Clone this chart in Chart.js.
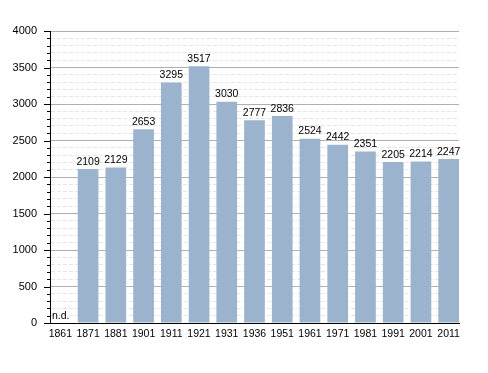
<!DOCTYPE html>
<html>
<head>
<meta charset="utf-8">
<script src="https://cdn.jsdelivr.net/npm/chart.js@4"></script>
<style>
  body { margin: 0; background: #fff; }
  #wrap { width: 488px; height: 373px; }
</style>
</head>
<body>
<div id="wrap"><canvas id="popChart" width="488" height="373"></canvas></div>
<script>
// dati del grafico
const years = ["1861", "1871", "1881", "1901", "1911", "1921", "1931", "1936", "1951", "1961", "1971", "1981", "1991", "2001", "2011"];
const population = [null, 2109, 2129, 2653, 3295, 3517, 3030, 2777, 2836, 2524, 2442, 2351, 2205, 2214, 2247];
const yTicks = [0, 500, 1000, 1500, 2000, 2500, 3000, 3500, 4000];
const missingLabel = "n.d.";

// le barre toccano i bordi dell'asse: mezza barra di margine
const halfBar = 0.373;

// etichette sopra le barre + tacche asse y
const labelPlugin = {
    id: "labelPlugin",
    afterDatasetsDraw(chart) {
        const ctx = chart.ctx;
        const meta = chart.getDatasetMeta(0);
        const yScale = chart.scales.y;
        ctx.save();
        ctx.font = "10.5px 'Liberation Sans', Arial, sans-serif";
        ctx.fillStyle = "#000";
        ctx.textAlign = "center";
        ctx.textBaseline = "bottom";
        meta.data.forEach((bar, i) => {
            const v = population[i];
            if (v === null) {
                ctx.textAlign = "left";
                ctx.fillText(missingLabel, chart.chartArea.left + 2, yScale.getPixelForValue(0) - 2);
                ctx.textAlign = "center";
            } else {
                ctx.fillText(String(v), bar.x, bar.y - 2);
            }
        });
        // tacche sull'asse verticale
        ctx.strokeStyle = "#000";
        ctx.lineWidth = 1;
        const x0 = chart.chartArea.left;
        yScale.ticks.forEach(t => {
            const y = Math.round(yScale.getPixelForValue(t.value)) + 0.5;
            const len = yTicks.includes(t.value) ? 6 : 3;
            ctx.beginPath();
            ctx.moveTo(x0 - len, y);
            ctx.lineTo(x0, y);
            ctx.stroke();
        });
        ctx.restore();
    }
};

const isMajor = v => yTicks.includes(v);

new Chart(document.getElementById("popChart").getContext("2d"), {
    type: "bar",
    data: {
        datasets: [{
            data: population.map((v, i) => ({ x: i, y: v })),
            backgroundColor: "#9bb3cc",
            barPercentage: 0.746,
            categoryPercentage: 1
        }]
    },
    options: {
        responsive: false,
        animation: false,
        layout: { padding: { top: 31, right: 29, bottom: 0, left: 0 } },
        plugins: {
            legend: { display: false },
            tooltip: { enabled: false }
        },
        scales: {
            x: {
                type: "linear",
                min: -halfBar,
                max: years.length - 1 + halfBar,
                offset: false,
                afterFit: s => { s.height = 50; },
                afterBuildTicks: s => { s.ticks = years.map((_, i) => ({ value: i })); },
                grid: { display: false, drawTicks: false },
                border: { color: "#000", width: 1 },
                ticks: {
                    color: "#000",
                    padding: 5,
                    maxRotation: 0,
                    autoSkip: false,
                    font: { family: "'Liberation Sans', Arial, sans-serif", size: 10.5 },
                    callback: v => years[v] ?? ""
                }
            },
            y: {
                min: 0,
                max: 4000,
                afterFit: s => { s.width = 50; },
                grid: {
                    drawTicks: false,
                    color: c => (c.tick && isMajor(c.tick.value)) ? "#b0b0b0" : "#e6e6e6",
                    lineWidth: 1
                },
                border: {
                    color: "#000",
                    width: 1,
                    dash: c => (c.tick && !isMajor(c.tick.value)) ? [4, 2] : []
                },
                ticks: {
                    stepSize: 100,
                    autoSkip: false,
                    padding: 13,
                    color: "#000",
                    font: { family: "'Liberation Sans', Arial, sans-serif", size: 11 },
                    callback: v => isMajor(v) ? String(v) : ""
                }
            }
        }
    },
    plugins: [labelPlugin]
});
</script>
</body>
</html>
